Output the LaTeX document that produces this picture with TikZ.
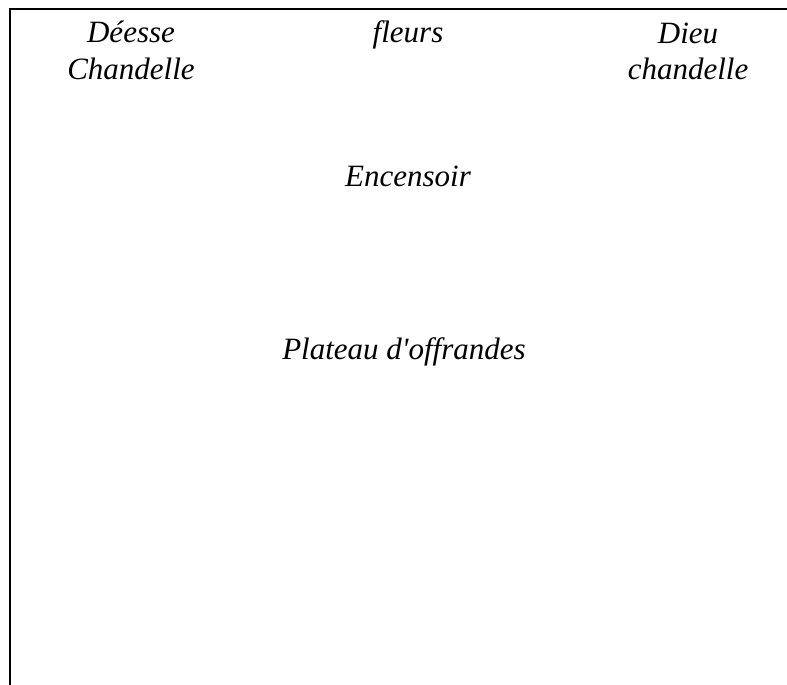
\documentclass[tikz,border=0pt]{standalone}
\usepackage{fontspec}
\setmainfont{Liberation Serif}
\begin{document}
\begin{tikzpicture}[x=1pt,y=1pt,
  lbl/.style={font=\fontsize{31}{36.5}\selectfont\itshape, inner sep=0pt, align=center, anchor=base},
  frame/.style={line width=1.3pt, draw=black}]
\useasboundingbox (0,0) rectangle (787,-685);
\draw[frame] (10,-685) -- (10,-9) -- (787,-9);
\node[lbl] (deesse) at (131,-79) {Déesse\\Chandelle};
\node[lbl] (fleurs) at (408,-43) {fleurs};
\node[lbl] (dieu) at (688,-80) {Dieu\\chandelle};
\node[lbl] (encensoir) at (408,-186) {Encensoir};
\node[lbl] (plateau) at (404,-359) {Plateau d\textquotesingle offrandes};
\end{tikzpicture}
\end{document}
